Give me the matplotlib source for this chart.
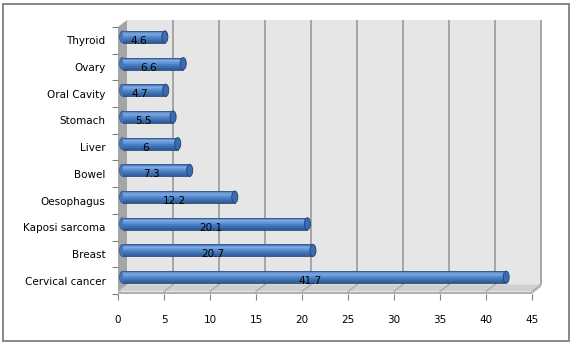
import matplotlib
matplotlib.use('Agg')
import matplotlib.pyplot as plt
import numpy as np
from matplotlib.patches import Rectangle, Polygon, Ellipse
from matplotlib.colors import to_rgb

categories = ['Cervical cancer', 'Breast', 'Kaposi sarcoma', 'Oesophagus', 'Bowel',
              'Liver', 'Stomach', 'Oral Cavity', 'Ovary', 'Thyroid']
values = [41.7, 20.7, 20.1, 12.2, 7.3, 6, 5.5, 4.7, 6.6, 4.6]
xticks = [0, 5, 10, 15, 20, 25, 30, 35, 40, 45]

W, H = 572, 343
fig = plt.figure(figsize=(W / 100, H / 100), dpi=100)
ax_l, ax_b, ax_w, ax_h = 118, 49, 414, 267
ax = fig.add_axes([ax_l / W, ax_b / H, ax_w / W, ax_h / H])
xmax = 45
ax.set_xlim(0, xmax)
ax.set_ylim(-0.5, len(categories) - 0.5)
ux = xmax / ax_w          # data units per pixel (x)
uy = len(categories) / ax_h  # data units per pixel (y)
DX, DY = 9 * ux, 7 * uy   # depth offset
T = 2.5 * uy              # floor thickness
y0 = -0.5
y1 = len(categories) - 0.5

for s in ax.spines.values():
    s.set_visible(False)
ax.patch.set_visible(False)

# back wall
ax.add_patch(Rectangle((DX, y0 + T + DY), xmax, y1 - y0 - T, fc='#e6e6e6', ec='none',
                       zorder=0, clip_on=False))
# left wall
ax.add_patch(Polygon([(0, y0), (DX, y0 + DY), (DX, y1 + DY), (0, y1)], closed=True,
                     fc='#a5a5a5', ec='none', zorder=1, clip_on=False))
# floor top
ax.add_patch(Polygon([(0, y0 + T), (xmax, y0 + T), (xmax + DX, y0 + T + DY), (DX, y0 + T + DY)],
                     closed=True, fc='#d0d0d0', ec='none', zorder=1, clip_on=False))
# floor front and right face
ax.add_patch(Rectangle((0, y0), xmax, T, fc='#b0b0b0', ec='none', zorder=1, clip_on=False))
ax.add_patch(Polygon([(xmax, y0), (xmax + DX, y0 + DY), (xmax + DX, y0 + T + DY), (xmax, y0 + T)],
                     closed=True, fc='#bdbdbd', ec='none', zorder=1, clip_on=False))

# gridlines on back wall and floor
for xt in xticks[1:]:
    ax.plot([xt + DX, xt + DX], [y0 + T + DY, y1 + DY], color='#9a9a9a', lw=1.2,
            zorder=0.5, clip_on=False, solid_capstyle='butt')
    ax.plot([xt, xt + DX], [y0 + T, y0 + T + DY], color='#a8a8a8', lw=0.9,
            zorder=1.2, clip_on=False)

# bars as cylinders
bh = 12 * uy
nstrip = 18
c_dark = np.array(to_rgb('#2a5894'))
c_mid = np.array(to_rgb('#4a7ec1'))
c_light = np.array(to_rgb('#7eaae4'))
c_top = np.array(to_rgb('#3d6eae'))

def grad(t):
    # t=0 bottom, t=1 top
    if t < 0.4:
        a = t / 0.4
        return c_dark * (1 - a) + c_mid * a
    if t < 0.75:
        a = (t - 0.4) / 0.35
        return c_mid * (1 - a) + c_light * a
    a = (t - 0.75) / 0.25
    return c_light * (1 - a) + c_top * a

for i, v in enumerate(values):
    yc = i + DY / 2
    xs = DX / 2
    capw = 6 * ux
    ax.add_patch(Ellipse((xs, yc), capw, bh, fc='#4477b8', ec='#2f5a94', lw=0.5,
                         zorder=2, clip_on=False))
    for k in range(nstrip):
        t = (k + 0.5) / nstrip
        ax.barh(yc - bh / 2 + k * bh / nstrip, v, height=bh / nstrip * 1.05, left=xs,
                align='edge', color=grad(t), edgecolor='none', zorder=3, clip_on=False)
    ax.plot([xs, xs + v], [yc + bh / 2, yc + bh / 2], color='#2f5a94', lw=0.6, zorder=3.5,
            clip_on=False)
    ax.plot([xs, xs + v], [yc - bh / 2, yc - bh / 2], color='#1f4275', lw=0.6, zorder=3.5,
            clip_on=False)
    ax.add_patch(Ellipse((xs + v, yc), capw, bh, fc='#3c6cae', ec='#24497e', lw=0.7,
                         zorder=4, clip_on=False))
    ax.text(v / 2, i - 0.02, f'{v:g}', ha='center', va='center', fontsize=7.5,
            color='black', zorder=5)

# ticks and labels
ax.set_xticks(xticks)
ax.set_xticklabels([str(x) for x in xticks])
ax.tick_params(axis='x', direction='out', length=4, width=0.8, color='#808080',
               pad=11, labelsize=7.5)
ax.set_yticks(range(len(categories)))
ax.set_yticklabels(categories)
ax.set_yticks(np.arange(-0.5, len(categories), 1.0), minor=True)
ax.tick_params(axis='y', which='major', length=0, pad=9, labelsize=7.5)
ax.tick_params(axis='y', which='minor', direction='out', length=4, width=0.8, color='#808080')

# outer border
fig.patches.append(Rectangle((2.5 / W, 2.5 / H), 566 / W, 337 / H, transform=fig.transFigure,
                             fill=False, ec='#878787', lw=1.4))

fig.savefig('out.png', dpi=100)
